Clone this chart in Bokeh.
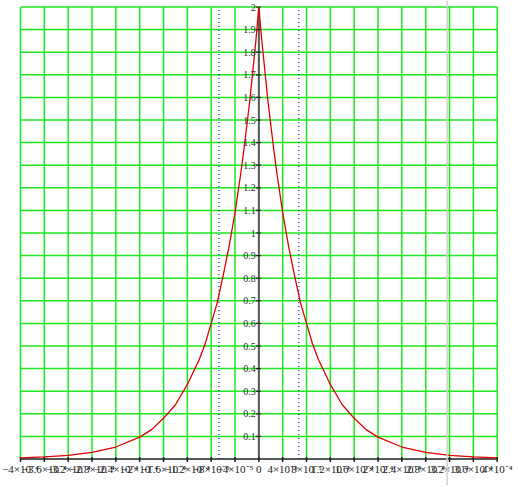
from bokeh.plotting import figure
from bokeh.models import Range1d, Span
from bokeh.core.properties import value
from bokeh.embed import file_html
from bokeh.resources import INLINE

# ---- data ----
x_ticks = [-4.0e-4, -3.6e-4, -3.2e-4, -2.8e-4, -2.4e-4, -2.0e-4, -1.6e-4, -1.2e-4, -8e-5, -4e-5,
           0.0, 4e-5, 8e-5, 1.2e-4, 1.6e-4, 2.0e-4, 2.4e-4, 2.8e-4, 3.2e-4, 3.6e-4, 4.0e-4]
x_labels = ["−4×10⁻⁴", "−3.6×10⁻⁴", "−3.2×10⁻⁴", "−2.8×10⁻⁴", "−2.4×10⁻⁴", "−2×10⁻⁴",
            "−1.6×10⁻⁴", "−1.2×10⁻⁴", "−8×10⁻⁵", "−4×10⁻⁵", "0", "4×10⁻⁵", "8×10⁻⁵",
            "1.2×10⁻⁴", "1.6×10⁻⁴", "2×10⁻⁴", "2.4×10⁻⁴", "2.8×10⁻⁴", "3.2×10⁻⁴",
            "3.6×10⁻⁴", "4×10⁻⁴"]
y_ticks = [0.1, 0.2, 0.3, 0.4, 0.5, 0.6, 0.7, 0.8, 0.9, 1.0,
           1.1, 1.2, 1.3, 1.4, 1.5, 1.6, 1.7, 1.8, 1.9, 2.0]
y_labels = ["0.1", "0.2", "0.3", "0.4", "0.5", "0.6", "0.7", "0.8", "0.9", "1",
            "1.1", "1.2", "1.3", "1.4", "1.5", "1.6", "1.7", "1.8", "1.9", "2"]

curve_x = [-4.0e-4, -3.6e-4, -3.2e-4, -2.8e-4, -2.4e-4, -2.0e-4, -1.8e-4, -1.6e-4, -1.4e-4,
           -1.2e-4, -1.0e-4, -9e-5, -8e-5, -7e-5, -6e-5, -5e-5, -4e-5, -3e-5, -2.5e-5, -2e-5,
           -1.5e-5, -1e-5, -5e-6, 0.0,
           5e-6, 1e-5, 1.5e-5, 2e-5, 2.5e-5, 3e-5, 4e-5, 5e-5, 6e-5, 7e-5, 8e-5, 9e-5,
           1.0e-4, 1.2e-4, 1.4e-4, 1.6e-4, 1.8e-4, 2.0e-4, 2.4e-4, 2.8e-4, 3.2e-4, 3.6e-4, 4.0e-4]
curve_y = [0.005, 0.009, 0.016, 0.029, 0.053, 0.097, 0.13, 0.18, 0.24,
           0.33, 0.44, 0.51, 0.60, 0.69, 0.81, 0.94, 1.09, 1.27, 1.37, 1.48,
           1.59, 1.72, 1.85, 2.0,
           1.85, 1.72, 1.59, 1.48, 1.37, 1.27, 1.09, 0.94, 0.81, 0.69, 0.60, 0.51,
           0.44, 0.33, 0.24, 0.18, 0.13, 0.097, 0.053, 0.029, 0.016, 0.009, 0.005]

marker_x = [-6.7e-5, 6.7e-5]   # blue dotted verticals
artifact_x = 3.16e-4           # light grey vertical line in the screenshot

# ---- layout (pixel mapping) ----
W, H = 516, 485
kx = 476.7 / 8e-4          # px per x unit
cx = 258.35                # x=0 position in figure px
ky = 226.0                 # px per y unit
cy = 458.5                 # y=0 position in figure px

p = figure(width=W, height=H, output_backend="svg", toolbar_location=None,
           x_range=Range1d(-cx / kx, (W - cx) / kx),
           y_range=Range1d(-(H - cy) / ky, cy / ky),
           min_border_left=0, min_border_right=0, min_border_top=0, min_border_bottom=0)
p.axis.visible = False
p.grid.visible = False
p.outline_line_color = None
p.background_fill_color = "white"
p.border_fill_color = "white"

green = "#1ee61e"
# vertical grid lines
p.segment(x0=x_ticks, y0=[0] * len(x_ticks), x1=x_ticks, y1=[y_ticks[-1]] * len(x_ticks),
          line_color=green, line_width=1.5)
# horizontal grid lines
p.segment(x0=[x_ticks[0]] * len(y_ticks), y0=y_ticks, x1=[x_ticks[-1]] * len(y_ticks), y1=y_ticks,
          line_color=green, line_width=1.5)

# blue dotted markers
p.segment(x0=marker_x, y0=[0, 0], x1=marker_x, y1=[y_ticks[-1]] * 2,
          line_color="#1010c0", line_width=1.2, line_dash="1 3")

# axes
p.segment(x0=[x_ticks[0]], y0=[0], x1=[x_ticks[-1]], y1=[0], line_color="#202020", line_width=1.6)
p.segment(x0=[0], y0=[0], x1=[0], y1=[y_ticks[-1]], line_color="#5a5a5a", line_width=2)
# x tick marks
p.segment(x0=x_ticks, y0=[-3 / ky] * len(x_ticks), x1=x_ticks, y1=[2 / ky] * len(x_ticks),
          line_color="#202020", line_width=1.5)
# y tick marks
p.segment(x0=[-3 / kx] * len(y_ticks), y0=y_ticks, x1=[2 / kx] * len(y_ticks), y1=y_ticks,
          line_color="#202020", line_width=1.2)

# curve
p.line(curve_x, curve_y, line_color="#e00000", line_width=1.3)

# labels
p.text(x=x_ticks, y=[0] * len(x_ticks), text=x_labels, y_offset=10,
       text_align="center", text_baseline="middle",
       text_font=value("Liberation Serif"), text_font_size="11px", text_color="#202020")
p.text(x=[0] * len(y_ticks), y=y_ticks, text=y_labels, x_offset=-3,
       text_align="right", text_baseline="middle",
       text_font=value("Liberation Serif"), text_font_size="10px", text_color="#303030")

p.add_layout(Span(location=artifact_x, dimension="height", line_color="#d0d0d0", line_width=1.5))

open("out.html", "w").write(file_html(p, INLINE))
